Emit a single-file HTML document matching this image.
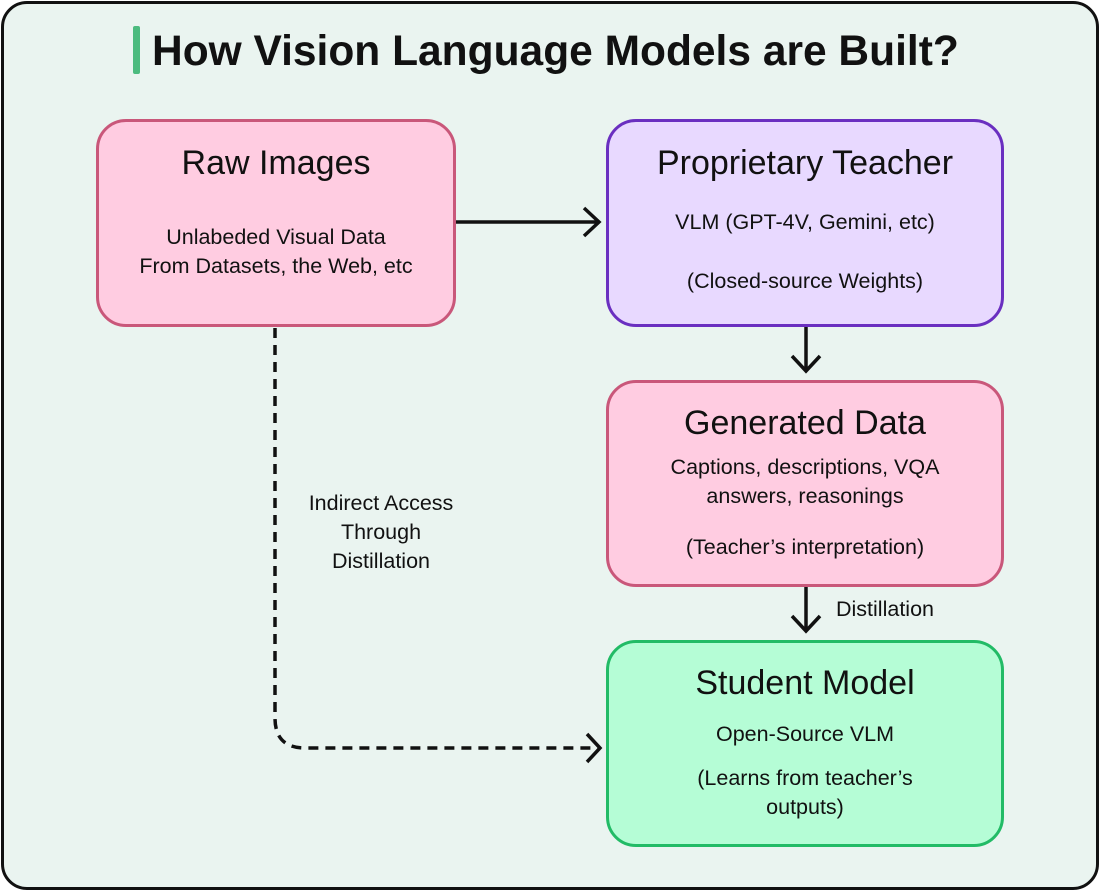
<!DOCTYPE html>
<html><head><style>
body{margin:0;width:1100px;height:891px;background:#fff;font-family:"Liberation Sans",sans-serif;}
.frame{position:absolute;left:1px;top:1px;width:1092px;height:883px;border:3px solid #111;border-radius:26px;background:#eaf4f0;}
.box{position:absolute;box-sizing:border-box;border:3px solid;border-radius:30px;}
.l{position:absolute;text-align:center;color:#111;white-space:nowrap;}
.t{font-size:34px;line-height:40px;}
.s{font-size:21.5px;line-height:29px;}
</style></head><body>
<div class="frame"></div>
<div style="position:absolute;left:133px;top:26px;width:7px;height:48px;background:#4cbb7f;border-radius:2px"></div>
<div style="position:absolute;left:152px;top:24px;font-size:42.5px;font-weight:bold;color:#111;line-height:56px;white-space:nowrap">How Vision Language Models are Built?</div>

<div class="box" style="left:96px;top:119px;width:360px;height:208px;border-color:#c9577a;background:#ffcce1"></div>
<div class="box" style="left:606px;top:119px;width:398px;height:208px;border-color:#6a2fc0;background:#e8d9ff"></div>
<div class="box" style="left:606px;top:380px;width:398px;height:207px;border-color:#c9577a;background:#ffcce1"></div>
<div class="box" style="left:606px;top:640px;width:398px;height:207px;border-color:#22bb66;background:#b5fdd6"></div>

<div class="l t" style="left:96px;width:360px;top:143px">Raw Images</div>
<div class="l s" style="left:96px;width:360px;top:223px">Unlabeded Visual Data<br>From Datasets, the Web, etc</div>

<div class="l t" style="left:606px;width:398px;top:143px">Proprietary Teacher</div>
<div class="l s" style="left:606px;width:398px;top:208px">VLM (GPT-4V, Gemini, etc)</div>
<div class="l s" style="left:606px;width:398px;top:267px">(Closed-source Weights)</div>

<div class="l t" style="left:606px;width:398px;top:403px">Generated Data</div>
<div class="l s" style="left:606px;width:398px;top:453px">Captions, descriptions, VQA<br>answers, reasonings</div>
<div class="l s" style="left:606px;width:398px;top:533px">(Teacher’s interpretation)</div>

<div class="l t" style="left:606px;width:398px;top:663px">Student Model</div>
<div class="l s" style="left:606px;width:398px;top:720px">Open-Source VLM</div>
<div class="l s" style="left:606px;width:398px;top:764px">(Learns from teacher’s<br>outputs)</div>

<div class="l s" style="left:281px;top:489px;width:200px">Indirect Access<br>Through<br>Distillation</div>
<div class="l s" style="left:836px;top:595px;">Distillation</div>

<svg width="1100" height="891" style="position:absolute;left:0;top:0" fill="none" stroke="#111" stroke-width="3.5">
<path d="M456 222H598M584 208L599 222L584 236"/>
<path d="M806 327V370M792 356L806 371L820 356"/>
<path d="M806 587V630M792 616L806 631L820 616"/>
<path d="M275 328V718Q275 748 305 748H598" stroke-dasharray="10 7"/>
<path d="M587 734L600 748L587 762"/>
</svg>
</body></html>
